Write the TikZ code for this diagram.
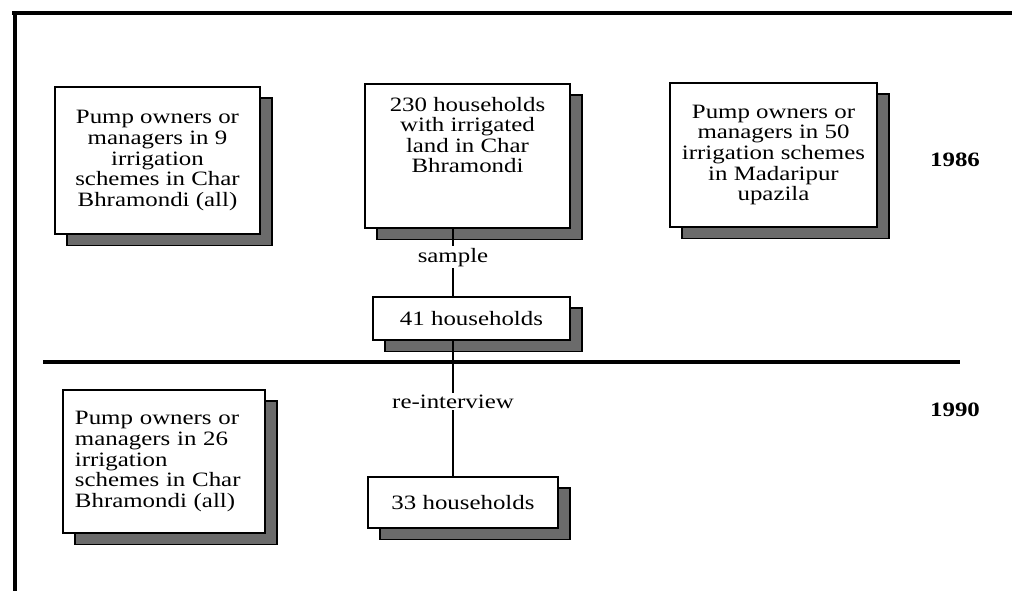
\documentclass[tikz,border=0pt]{standalone}
\usepackage{fontspec}
\setmainfont[FakeStretch=1.22]{Liberation Serif}
\usetikzlibrary{shadows}

\begin{document}
\begin{tikzpicture}[x=0.025cm, y=-0.025cm,
  box/.style={draw=black, line width=1.4pt, fill=white, inner sep=2pt,
    font=\fontsize{14.5}{14.6}\selectfont,
    drop shadow={shadow xshift=0.3cm, shadow yshift=-0.28cm, opacity=1,
      fill=black!58, draw=black, line width=1pt}},
  lbl/.style={fill=white, inner sep=1pt, font=\fontsize{14.5}{14.6}\selectfont},
  yr/.style={font=\fontsize{14.5}{14.6}\selectfont\bfseries}]
  \useasboundingbox (0,0) rectangle (1012,591);

	\draw[draw=black, line width=3.5pt] (12,13) -- (1012,13);
	\draw[draw=black, line width=3pt] (15,13) -- (15,591);
	\draw[draw=black, line width=3.5pt] (43,362) -- (960,362);

	\node[box, align=center, minimum width=5.125cm, minimum height=3.675cm] (own86) at (157.5,160.5)
	  {Pump owners or\\managers in 9\\irrigation\\schemes in Char\\Bhramondi (all)};
	\node[box, align=center, minimum width=5.125cm, minimum height=3.6cm] (hh230) at (467.5,156)
	  {230 households\\with irrigated\\land in Char\\Bhramondi\\[0.55cm]};
	\node[box, align=center, minimum width=5.175cm, minimum height=3.6cm] (own50) at (773.5,155)
	  {Pump owners or\\managers in 50\\irrigation schemes\\in Madaripur\\upazila};
	\node[box, minimum width=4.925cm, minimum height=1.075cm] (hh41) at (471.5,318.5) {41 households};
	\node[box, minimum width=4.75cm, minimum height=1.275cm] (hh33) at (463,502.5) {33 households};
	\node[box, align=left, text width=4.45cm, minimum width=5.05cm, minimum height=3.575cm] (own90) at (164,461.5)
	  {Pump owners or\\managers in 26\\irrigation\\schemes in Char\\Bhramondi (all)};

	\node[yr] (y86) at (955,160) {1986};
	\node[yr] (y90) at (955,410) {1990};

	\coordinate (spine) at (453,0);
	\draw[draw=black, line width=1.3pt] (hh230.south -| spine) -- node[lbl, pos=0.42] {sample} (hh41.north -| spine);
	\draw[draw=black, line width=1.3pt] (hh41.south -| spine) -- node[lbl, pos=0.45] {re-interview} (hh33.north -| spine);
\end{tikzpicture}
\end{document}
